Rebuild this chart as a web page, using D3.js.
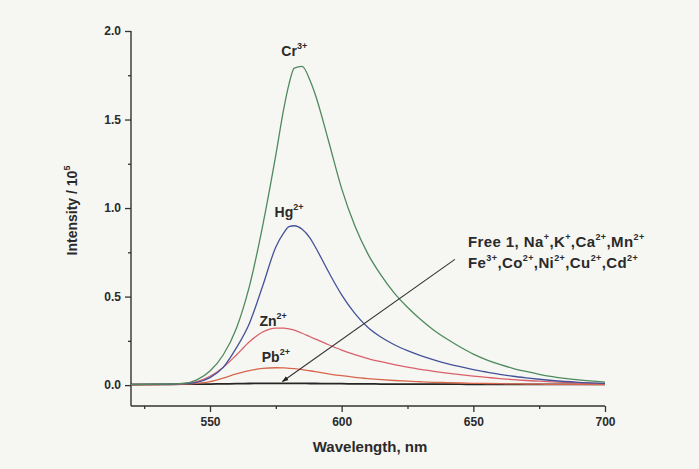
<!DOCTYPE html>
<html>
<head>
<meta charset="utf-8">
<script src="https://cdn.jsdelivr.net/npm/d3@7"></script>
<style>
  body { margin: 0; background: #f6f6f3; }
  svg { display: block; }
  text { font-family: Arial, "Liberation Sans", sans-serif; font-weight: bold; fill: #2a2a2a; }
</style>
</head>
<body>
<script>
// wavelength grid (nm) and intensities (x 10^5)
const wavelengths = [520, 530, 540, 545, 550, 555, 560, 565, 570, 575, 578, 580, 582, 585, 588, 590, 595, 600, 605, 610, 615, 620, 625, 630, 635, 640, 645, 650, 655, 660, 665, 670, 675, 680, 690, 700];

const cr = [0.003, 0.005, 0.01, 0.03, 0.08, 0.17, 0.32, 0.56, 0.9, 1.3, 1.56, 1.7, 1.79, 1.8, 1.72, 1.64, 1.38, 1.11, 0.9, 0.74, 0.62, 0.52, 0.44, 0.37, 0.31, 0.26, 0.215, 0.175, 0.143, 0.117, 0.095, 0.077, 0.061, 0.048, 0.029, 0.017];
const hg = [0.003, 0.004, 0.008, 0.016, 0.042, 0.1, 0.21, 0.35, 0.56, 0.78, 0.86, 0.895, 0.9, 0.88, 0.83, 0.78, 0.64, 0.51, 0.405, 0.325, 0.27, 0.228, 0.195, 0.167, 0.143, 0.122, 0.104, 0.088, 0.074, 0.061, 0.05, 0.041, 0.033, 0.026, 0.016, 0.01];
const zn = [0.002, 0.004, 0.01, 0.02, 0.05, 0.1, 0.17, 0.245, 0.3, 0.322, 0.322, 0.318, 0.31, 0.293, 0.273, 0.26, 0.228, 0.198, 0.172, 0.15, 0.132, 0.116, 0.102, 0.089, 0.078, 0.068, 0.059, 0.051, 0.044, 0.037, 0.031, 0.026, 0.022, 0.018, 0.012, 0.008];
const pb = [0.001, 0.002, 0.005, 0.01, 0.02, 0.04, 0.063, 0.082, 0.094, 0.098, 0.097, 0.095, 0.093, 0.088, 0.081, 0.076, 0.064, 0.053, 0.044, 0.037, 0.031, 0.026, 0.022, 0.019, 0.016, 0.014, 0.012, 0.01, 0.009, 0.008, 0.007, 0.006, 0.005, 0.0045, 0.004, 0.003];
const free = [0.004, 0.004, 0.005, 0.005, 0.006, 0.007, 0.008, 0.009, 0.01, 0.01, 0.01, 0.01, 0.01, 0.01, 0.009, 0.009, 0.008, 0.008, 0.007, 0.007, 0.006, 0.006, 0.006, 0.005, 0.005, 0.005, 0.005, 0.004, 0.004, 0.004, 0.004, 0.004, 0.004, 0.004, 0.004, 0.004];

const xTicks = [550, 600, 650, 700];
const xMinor = [525, 575, 625, 675];
const yTicks = [0.0, 0.5, 1.0, 1.5, 2.0];
const yMinor = [0.25, 0.75, 1.25, 1.75];

const series = [
  { name: "Free", values: free, color: "#262626" },
  { name: "Pb", values: pb, color: "#d8664c" },
  { name: "Zn", values: zn, color: "#d9606c" },
  { name: "Hg", values: hg, color: "#44529a" },
  { name: "Cr", values: cr, color: "#4f8a5e" }
];

// peak labels: [base, superscript, wavelength, intensity]
const labels = [
  ["Cr", "3+", 582, 1.86],
  ["Hg", "2+", 580, 0.95],
  ["Zn", "2+", 574, 0.335],
  ["Pb", "2+", 575, 0.128]
];

const W = 699, H = 469;
const margin = { left: 131, right: 94, top: 31, bottom: 63 };

const svg = d3.select("body").append("svg")
  .attr("width", W)
  .attr("height", H);

const x = d3.scaleLinear().domain([520, 700]).range([margin.left, W - margin.right]);
const y = d3.scaleLinear().domain([-0.118, 2.0]).range([H - margin.bottom, margin.top]);

const axisColor = "#333";

// x axis
const gx = svg.append("g").attr("transform", `translate(0,${H - margin.bottom})`);
gx.call(d3.axisBottom(x).tickValues(xTicks).tickSize(6).tickPadding(5).tickFormat(d3.format("d")));
gx.append("g").call(d3.axisBottom(x).tickValues(xMinor).tickSize(3).tickFormat(""));
gx.selectAll(".domain").remove();
gx.append("line").attr("x1", margin.left).attr("x2", W - margin.right).attr("stroke", axisColor).attr("stroke-width", 1.4);
gx.selectAll(".tick line").attr("stroke", axisColor).attr("stroke-width", 1.3);
gx.selectAll(".tick text").style("font-size", "12px").attr("fill", "#333");

// y axis
const gy = svg.append("g").attr("transform", `translate(${margin.left},0)`);
gy.call(d3.axisLeft(y).tickValues(yTicks).tickSize(6).tickPadding(4).tickFormat(d3.format(".1f")));
gy.append("g").call(d3.axisLeft(y).tickValues(yMinor).tickSize(3).tickFormat(""));
gy.selectAll(".domain").remove();
gy.append("line").attr("y1", y(2.0)).attr("y2", H - margin.bottom).attr("stroke", axisColor).attr("stroke-width", 1.4);
gy.selectAll(".tick line").attr("stroke", axisColor).attr("stroke-width", 1.3);
gy.selectAll(".tick text").style("font-size", "12px").attr("fill", "#333");

// curves
const line = d3.line()
  .x((d, i) => x(wavelengths[i]))
  .y(d => y(d))
  .curve(d3.curveMonotoneX);

svg.selectAll("path.curve")
  .data(series)
  .enter()
  .append("path")
  .attr("class", "curve")
  .attr("d", d => line(d.values))
  .attr("fill", "none")
  .attr("stroke", d => d.color)
  .attr("stroke-width", d => d.name === "Free" ? 1.8 : 1.3);

// peak labels
labels.forEach(([base, sup, wl, v]) => {
  const t = svg.append("text")
    .attr("x", x(wl))
    .attr("y", y(v))
    .attr("text-anchor", "middle")
    .style("font-size", "14px");
  t.append("tspan").text(base);
  t.append("tspan").attr("baseline-shift", "7").style("font-size", "9px").text(sup);
});

// arrow annotation
svg.append("defs").append("marker")
  .attr("id", "head")
  .attr("viewBox", "0 0 10 10")
  .attr("refX", 9).attr("refY", 5)
  .attr("markerWidth", 6).attr("markerHeight", 6)
  .attr("orient", "auto")
  .append("path").attr("d", "M0,1.5 L10,5 L0,8.5 Z").attr("fill", "#222");

svg.append("line")
  .attr("x1", x(643)).attr("y1", y(0.71))
  .attr("x2", x(577.5)).attr("y2", y(0.02))
  .attr("stroke", "#333").attr("stroke-width", 1.1)
  .attr("marker-end", "url(#head)");

const noteLines = [
  [["Free 1, Na", ""], ["", "+"], [",K", ""], ["", "+"], [",Ca", ""], ["", "2+"], [",Mn", ""], ["", "2+"]],
  [["Fe", ""], ["", "3+"], [",Co", ""], ["", "2+"], [",Ni", ""], ["", "2+"], [",Cu", ""], ["", "2+"], [",Cd", ""], ["", "2+"]]
];
noteLines.forEach((parts, li) => {
  const t = svg.append("text")
    .attr("x", 468)
    .attr("y", 247 + li * 21)
    .style("font-size", "15px")
    .style("letter-spacing", "0.4px");
  parts.forEach(([b, s]) => {
    if (b) t.append("tspan").text(b);
    if (s) t.append("tspan").attr("baseline-shift", "7").style("font-size", "9px").text(s);
  });
});

// axis titles
svg.append("text")
  .attr("x", (margin.left + W - margin.right) / 2 + 2)
  .attr("y", 452)
  .attr("text-anchor", "middle")
  .style("font-size", "15px")
  .text("Wavelength, nm");

const yt = svg.append("text")
  .attr("transform", `translate(77,${(y(2.0) + H - margin.bottom) / 2 - 8}) rotate(-90)`)
  .attr("text-anchor", "middle")
  .style("font-size", "14px");
yt.append("tspan").text("Intensity / 10");
yt.append("tspan").attr("baseline-shift", "7").style("font-size", "9px").text("5");
</script>
</body>
</html>
